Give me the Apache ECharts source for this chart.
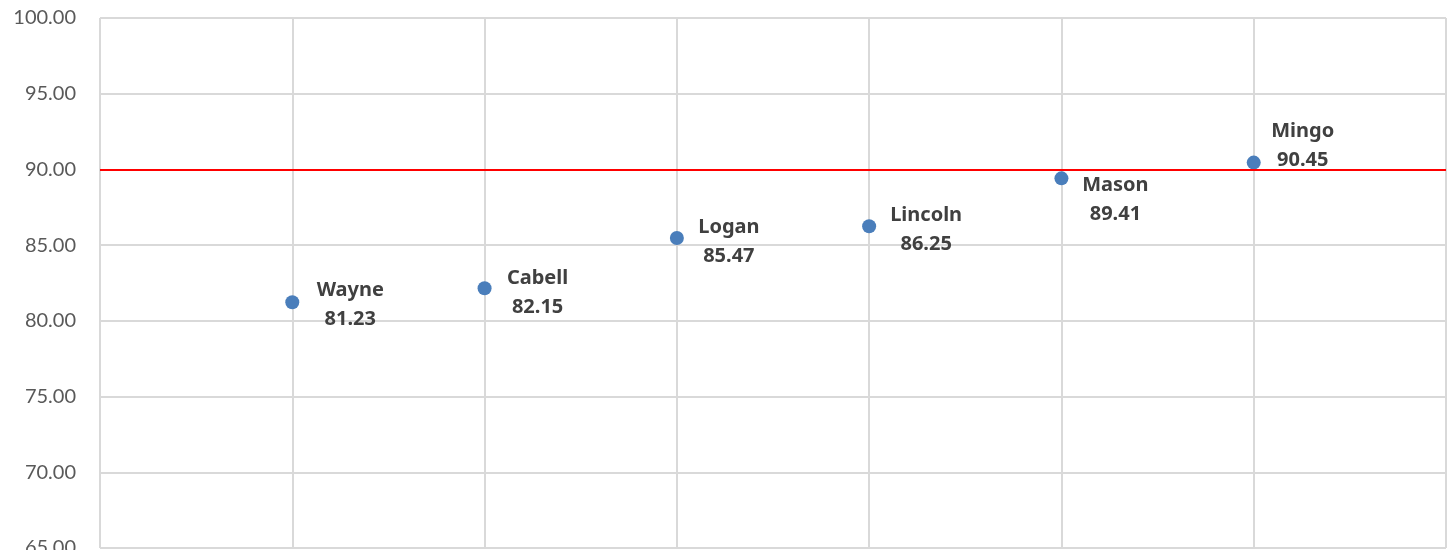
<!DOCTYPE html>
<html>
<head>
    <meta charset="UTF-8">
    <script src="https://cdn.jsdelivr.net/npm/echarts@6/dist/echarts.min.js"></script>
    <style>
        html, body { margin: 0; padding: 0; background: #fff; }
        #container { width: 1449px; height: 550px; }
    </style>
</head>
<body>
<div id="container"></div>
<script type="text/javascript">
    // 县名和得分
    var counties = ['Wayne', 'Cabell', 'Logan', 'Lincoln', 'Mason', 'Mingo'];
    var positions = [1, 2, 3, 4, 5, 6];
    var scores = [81.23, 82.15, 85.47, 86.25, 89.41, 90.45];
    var targetLine = 90;

    // 标签偏移 (Excel 手动放置的位置)
    var labelOffsets = [[58, 3], [53, 4], [52, 4], [57, 4], [54, 21], [49, -17]];

    var dom = document.getElementById('container');
    var myChart = echarts.init(dom, null, { renderer: 'canvas' });

    var points = counties.map(function (name, i) {
        return {
            name: name,
            value: [positions[i], scores[i]],
            label: { offset: labelOffsets[i] }
        };
    });

    var option = {
        animation: false,
        grid: { left: 100, right: 3, top: 18, bottom: 2, outerBoundsMode: 'none' },
        xAxis: {
            type: 'value',
            min: 0,
            max: 7,
            interval: 1,
            axisLine: { show: false },
            axisTick: { show: false },
            axisLabel: { show: false },
            splitLine: { lineStyle: { color: '#d9d9d9', width: 2 } }
        },
        yAxis: {
            type: 'value',
            min: 65,
            max: 100,
            interval: 5,
            axisLine: { show: false },
            axisTick: { show: false },
            axisLabel: {
                color: '#595959',
                fontFamily: 'Lato',
                fontSize: 20,
                margin: 24,
                formatter: function (v) { return v.toFixed(2); }
            },
            splitLine: { lineStyle: { color: '#d9d9d9', width: 2 } }
        },
        series: [{
            type: 'scatter',
            symbolSize: 14,
            itemStyle: { color: '#4a7ebb', opacity: 1 },
            data: points,
            label: {
                show: true,
                position: 'inside',
                align: 'center',
                verticalAlign: 'middle',
                color: '#404040',
                fontFamily: 'Noto Sans',
                fontWeight: 'bold',
                fontSize: 20,
                lineHeight: 29,
                formatter: function (p) {
                    return p.name + '\n' + p.value[1].toFixed(2);
                }
            },
            markLine: {
                silent: true,
                symbol: 'none',
                label: { show: false },
                lineStyle: { color: '#ff0000', width: 2, type: 'solid' },
                data: [{ yAxis: targetLine }]
            }
        }]
    };

    myChart.setOption(option);
    window.addEventListener('resize', myChart.resize);
</script>
</body>
</html>
